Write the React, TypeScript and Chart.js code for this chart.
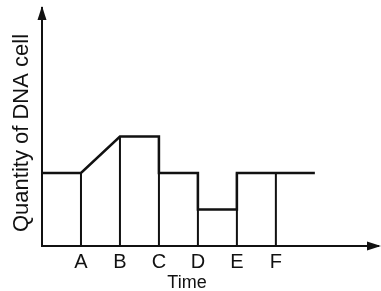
import React, { useEffect, useRef } from "react";
import { Chart, registerables } from "chart.js";

Chart.register(...registerables);

const timeLabels = ["A", "B", "C", "D", "E", "F"];
const curveX = [0, 1, 2, 3, 3, 4, 4, 5, 5, 7];
const curveY = [2, 2, 3, 3, 2, 2, 1, 1, 2, 2];
const dropX = [0, 1, 2, 3, 4, 5, 6];
const dropTop = [2, 2, 3, 3, 2, 2, 2];
const xTitle = "Time";
const yTitle = "Quantity of DNA cell";
const xMax = 8.62;
const yMax = 6.52;

const INK = "#111111";
const FONT = "'Liberation Sans', Arial, Helvetica, sans-serif";

const decorPlugin = {
  id: "axisDecor",
  afterDraw(chart: any) {
    const { ctx, chartArea } = chart;
    ctx.save();
    ctx.fillStyle = INK;
    // y arrow
    ctx.beginPath();
    ctx.moveTo(chartArea.left, chartArea.top - 2);
    ctx.lineTo(chartArea.left - 4.5, chartArea.top + 12);
    ctx.lineTo(chartArea.left + 4.5, chartArea.top + 12);
    ctx.closePath();
    ctx.fill();
    // x arrow
    ctx.beginPath();
    ctx.moveTo(chartArea.right + 3, chartArea.bottom);
    ctx.lineTo(chartArea.right - 11, chartArea.bottom - 4.5);
    ctx.lineTo(chartArea.right - 11, chartArea.bottom + 4.5);
    ctx.closePath();
    ctx.fill();
    // axis titles
    ctx.textAlign = "center";
    ctx.textBaseline = "middle";
    ctx.font = `18px ${FONT}`;
    ctx.fillText(xTitle, chartArea.left + 145, chartArea.bottom + 37);
    ctx.translate(chartArea.left - 20, chartArea.top + 125);
    ctx.rotate(-Math.PI / 2);
    ctx.font = `22px ${FONT}`;
    ctx.fillText(yTitle, 0, 0);
    ctx.restore();
  },
};

export default function App() {
  const ref = useRef<HTMLCanvasElement>(null);
  useEffect(() => {
    if (!ref.current) return;
    const curve = curveX.map((x, i) => ({ x, y: curveY[i] }));
    const drops: any[] = [];
    dropX.forEach((x, i) => {
      drops.push({ x, y: 0 }, { x, y: dropTop[i] }, { x, y: null });
    });
    const chart = new Chart(ref.current, {
      type: "line",
      data: {
        datasets: [
          {
            data: curve,
            borderColor: INK,
            borderWidth: 2.5,
            pointRadius: 0,
            tension: 0,
            fill: false,
          },
          {
            data: drops,
            borderColor: INK,
            borderWidth: 2,
            pointRadius: 0,
            spanGaps: false,
            fill: false,
          },
        ],
      },
      options: {
        animation: false,
        responsive: false,
        layout: { padding: { top: 8, right: 3, left: 0, bottom: 0 } },
        plugins: { legend: { display: false }, tooltip: { enabled: false } },
        scales: {
          x: {
            type: "linear",
            min: 0,
            max: xMax,
            grid: { display: false, drawTicks: false },
            border: { display: true, color: INK, width: 2 },
            afterBuildTicks: (scale: any) => {
              scale.ticks = timeLabels.map((_, i) => ({ value: i + 1 }));
            },
            afterFit: (scale: any) => {
              scale.height = 45;
            },
            ticks: {
              autoSkip: false,
              maxRotation: 0,
              padding: 4,
              color: INK,
              font: { family: FONT, size: 20 },
              callback: (v: any) => timeLabels[Number(v) - 1] ?? "",
            },
          },
          y: {
            type: "linear",
            min: 0,
            max: yMax,
            grid: { display: false, drawTicks: false },
            border: { display: true, color: INK, width: 2 },
            ticks: { display: false },
            afterFit: (scale: any) => {
              scale.width = 42;
            },
          },
        },
      },
      plugins: [decorPlugin],
    });
    return () => chart.destroy();
  }, []);
  return (
    <div style={{ position: "absolute", left: 0, top: 0, width: 381, height: 291, background: "#fff" }}>
      <canvas ref={ref} width={381} height={291} />
    </div>
  );
}
